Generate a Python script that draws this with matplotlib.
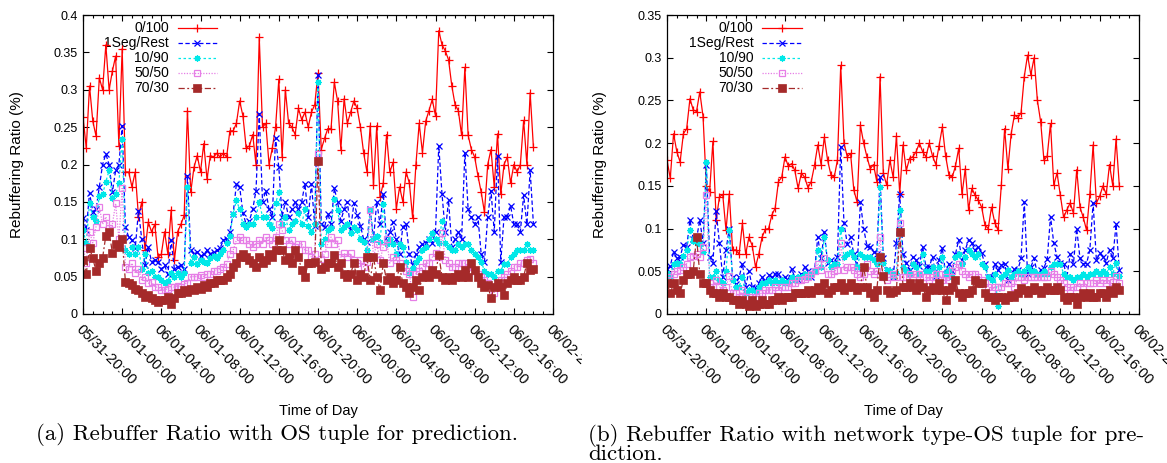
import numpy as np
import matplotlib
matplotlib.use("Agg")
import matplotlib.pyplot as plt
from matplotlib.transforms import Bbox, TransformedBbox

# x tick labels (every 4 hours, starting 05/31-20:00)
time_labels = ["05/31-20:00", "06/01-00:00", "06/01-04:00", "06/01-08:00",
               "06/01-12:00", "06/01-16:00", "06/01-20:00", "06/02-00:00",
               "06/02-04:00", "06/02-08:00", "06/02-12:00", "06/02-16:00",
               "06/02-20:00"]
series_names = ["0/100", "1Seg/Rest", "10/90", "50/50", "70/30"]

# samples every 20 minutes (value in %), panel (a): OS tuple
a_0_100 = [0.264, 0.222, 0.305, 0.258, 0.238, 0.316, 0.30, 0.36, 0.30, 0.325,
           0.345, 0.225, 0.355, 0.19, 0.19, 0.17, 0.19, 0.13, 0.15, 0.085,
           0.123, 0.11, 0.12, 0.076, 0.08, 0.11, 0.08, 0.139, 0.072, 0.11,
           0.12, 0.132, 0.272, 0.163, 0.196, 0.212, 0.19, 0.228, 0.18, 0.212,
           0.21, 0.215, 0.21, 0.215, 0.21, 0.245, 0.245, 0.255, 0.285, 0.265,
           0.222, 0.225, 0.24, 0.2, 0.37, 0.25, 0.255, 0.2, 0.222, 0.25,
           0.314, 0.21, 0.30, 0.255, 0.25, 0.24, 0.275, 0.26, 0.27, 0.25,
           0.27, 0.28, 0.322,
           0.22, 0.235, 0.248, 0.248, 0.31, 0.285, 0.22, 0.288, 0.255, 0.27,
           0.285, 0.275, 0.25, 0.215, 0.19, 0.252, 0.172, 0.252, 0.156, 0.175,
           0.24, 0.19, 0.203, 0.141, 0.17, 0.15, 0.19, 0.175, 0.128, 0.2,
           0.255, 0.216, 0.258, 0.272, 0.287, 0.265, 0.379, 0.36, 0.352, 0.34,
           0.305, 0.28, 0.272, 0.239, 0.33, 0.239, 0.22, 0.21, 0.185, 0.163,
           0.136, 0.2, 0.22, 0.17, 0.241, 0.16, 0.2, 0.21, 0.175, 0.2,
           0.19, 0.2, 0.259, 0.2, 0.296, 0.223]
a_1seg = [0.129, 0.112, 0.162, 0.137, 0.14, 0.17, 0.2, 0.214, 0.2, 0.163,
          0.192, 0.2, 0.252, 0.116, 0.103, 0.099, 0.088, 0.138, 0.1, 0.065,
          0.09, 0.07, 0.072, 0.07, 0.06, 0.065, 0.053, 0.099, 0.06, 0.063,
          0.065, 0.06, 0.185, 0.085, 0.08, 0.083, 0.077, 0.08, 0.085, 0.08,
          0.083, 0.085, 0.088, 0.099, 0.1, 0.11, 0.134, 0.174, 0.17, 0.135,
          0.12, 0.125, 0.14, 0.165, 0.268, 0.15, 0.165, 0.14, 0.13, 0.236,
          0.196, 0.13, 0.15, 0.13, 0.14, 0.15, 0.14, 0.15, 0.174, 0.13,
          0.174, 0.118, 0.32,
          0.12, 0.116, 0.134, 0.12, 0.168, 0.15, 0.125, 0.14, 0.15, 0.113,
          0.148, 0.133, 0.118, 0.1, 0.096, 0.14, 0.1, 0.15, 0.12, 0.161,
          0.098, 0.11, 0.123, 0.1, 0.08, 0.117, 0.12, 0.08, 0.065, 0.08,
          0.09, 0.093, 0.095, 0.1, 0.095, 0.11, 0.225, 0.16, 0.11, 0.152,
          0.09, 0.1, 0.11, 0.1, 0.216, 0.14, 0.13, 0.12, 0.13, 0.08,
          0.07, 0.13, 0.165, 0.11, 0.212, 0.07, 0.13, 0.13, 0.145, 0.12,
          0.12, 0.11, 0.159, 0.12, 0.192, 0.12]
a_10_90 = [0.112, 0.095, 0.148, 0.13, 0.125, 0.158, 0.16, 0.177, 0.192, 0.155,
           0.16, 0.175, 0.234, 0.085, 0.08, 0.09, 0.08, 0.09, 0.06, 0.08,
           0.055, 0.058, 0.05, 0.05, 0.045, 0.042, 0.044, 0.055, 0.05, 0.055,
           0.05, 0.055, 0.17, 0.068, 0.076, 0.067, 0.072, 0.07, 0.068, 0.075,
           0.077, 0.075, 0.08, 0.085, 0.095, 0.105, 0.134, 0.152, 0.14, 0.12,
           0.117, 0.12, 0.12, 0.13, 0.15, 0.13, 0.13, 0.12, 0.115, 0.148,
           0.163, 0.12, 0.13, 0.112, 0.12, 0.125, 0.135, 0.12, 0.14, 0.118,
           0.11, 0.12, 0.31,
           0.094, 0.1, 0.112, 0.115, 0.154, 0.139, 0.112, 0.116, 0.12, 0.108,
           0.116, 0.112, 0.1, 0.096, 0.085, 0.139, 0.1, 0.105, 0.096, 0.147,
           0.094, 0.1, 0.094, 0.08, 0.094, 0.09, 0.07, 0.055, 0.062, 0.07,
           0.075, 0.085, 0.09, 0.1, 0.108, 0.1, 0.095, 0.125, 0.095, 0.09,
           0.085, 0.085, 0.094, 0.09, 0.094, 0.094, 0.085, 0.08, 0.076, 0.07,
           0.058, 0.054, 0.054, 0.05, 0.058, 0.058, 0.067, 0.067, 0.076, 0.08,
           0.085, 0.085, 0.085, 0.094, 0.085, 0.085]
a_50_50 = [0.088, 0.068, 0.11, 0.095, 0.117, 0.143, 0.12, 0.13, 0.115, 0.12,
           0.148, 0.1, 0.168, 0.063, 0.06, 0.068, 0.055, 0.06, 0.045, 0.05,
           0.041, 0.043, 0.036, 0.036, 0.032, 0.032, 0.034, 0.036, 0.036, 0.038,
           0.036, 0.04, 0.042, 0.05, 0.05, 0.05, 0.052, 0.05, 0.054, 0.054,
           0.058, 0.058, 0.06, 0.063, 0.067, 0.08, 0.085, 0.099, 0.103, 0.099,
           0.099, 0.094, 0.09, 0.094, 0.099, 0.094, 0.103, 0.099, 0.094, 0.103,
           0.12, 0.112, 0.099, 0.094, 0.099, 0.09, 0.094, 0.094, 0.085, 0.085,
           0.076, 0.08, 0.214,
           0.074, 0.08, 0.094, 0.103, 0.094, 0.099, 0.076, 0.081, 0.076, 0.081,
           0.072, 0.068, 0.072, 0.063, 0.07, 0.139, 0.076, 0.094, 0.072, 0.09,
           0.1, 0.068, 0.076, 0.072, 0.068, 0.063, 0.058, 0.054, 0.023, 0.054,
           0.058, 0.063, 0.068, 0.068, 0.076, 0.081, 0.076, 0.108, 0.072, 0.068,
           0.063, 0.063, 0.068, 0.068, 0.068, 0.063, 0.058, 0.058, 0.054, 0.05,
           0.045, 0.041, 0.036, 0.028, 0.041, 0.045, 0.05, 0.054, 0.058, 0.063,
           0.063, 0.068, 0.068, 0.072, 0.074, 0.068]
a_70_30 = [0.072, 0.054, 0.088, 0.075, 0.057, 0.068, 0.075, 0.105, 0.11, 0.082,
           0.094, 0.09, 0.1, 0.043, 0.041, 0.039, 0.034, 0.032, 0.028, 0.023,
           0.025, 0.021, 0.019, 0.016, 0.019, 0.019, 0.023, 0.014, 0.021, 0.028,
           0.028, 0.032, 0.03, 0.034, 0.032, 0.036, 0.034, 0.039, 0.036, 0.041,
           0.041, 0.045, 0.045, 0.045, 0.05, 0.054, 0.063, 0.068, 0.076, 0.08,
           0.076, 0.072, 0.068, 0.063, 0.076, 0.068, 0.072, 0.08, 0.076, 0.085,
           0.099, 0.085, 0.072, 0.076, 0.068, 0.085, 0.076, 0.059, 0.05, 0.068,
           0.068, 0.07, 0.205,
           0.06, 0.063, 0.068, 0.068, 0.079, 0.063, 0.068, 0.054, 0.05, 0.054,
           0.068, 0.045, 0.054, 0.05, 0.076, 0.045, 0.076, 0.05, 0.032, 0.068,
           0.045, 0.05, 0.041, 0.045, 0.063, 0.041, 0.036, 0.028, 0.036, 0.045,
           0.032, 0.05, 0.054, 0.05, 0.059, 0.054, 0.079, 0.05, 0.045, 0.05,
           0.045, 0.05, 0.054, 0.05, 0.059, 0.05, 0.068, 0.059, 0.05, 0.041,
           0.036, 0.039, 0.021, 0.036, 0.041, 0.036, 0.025, 0.041, 0.045, 0.05,
           0.045, 0.045, 0.05, 0.068, 0.059, 0.06]

# panel (b): network type-OS tuple
b_0_100 = [0.18, 0.159, 0.211, 0.19, 0.178, 0.211, 0.217, 0.252, 0.239, 0.237,
           0.26, 0.231, 0.15, 0.143, 0.202, 0.11, 0.137, 0.14, 0.098, 0.141,
           0.075, 0.075, 0.07, 0.106, 0.07, 0.09, 0.08, 0.055, 0.07, 0.09,
           0.099, 0.1, 0.116, 0.124, 0.155, 0.16, 0.184, 0.173, 0.176, 0.168,
           0.147, 0.165, 0.16, 0.148, 0.155, 0.174, 0.198, 0.175, 0.207, 0.18,
           0.163, 0.16, 0.18, 0.291, 0.2, 0.184, 0.188, 0.145, 0.131, 0.221,
           0.2, 0.184, 0.17, 0.175, 0.155, 0.278,
           0.165, 0.151, 0.18, 0.16, 0.208, 0.141, 0.198, 0.168, 0.182, 0.184,
           0.19, 0.2, 0.19, 0.184, 0.2, 0.185, 0.175, 0.197, 0.219, 0.185,
           0.163, 0.16, 0.173, 0.194, 0.14, 0.17, 0.122, 0.147, 0.139, 0.133,
           0.125, 0.104, 0.1, 0.125, 0.107, 0.098, 0.151, 0.217, 0.17, 0.211,
           0.233, 0.23, 0.235, 0.278, 0.303, 0.28, 0.3, 0.25, 0.225, 0.18,
           0.185, 0.223, 0.151, 0.165, 0.139, 0.113, 0.122, 0.13, 0.118, 0.169,
           0.125, 0.113, 0.098, 0.14, 0.198, 0.13, 0.138, 0.15, 0.14, 0.175,
           0.15, 0.205, 0.15]
b_1seg = [0.053, 0.056, 0.073, 0.065, 0.067, 0.081, 0.078, 0.11, 0.088, 0.088,
          0.11, 0.083, 0.175, 0.067, 0.06, 0.12, 0.083, 0.043, 0.075, 0.1,
          0.043, 0.035, 0.043, 0.059, 0.032, 0.05, 0.032, 0.03, 0.036, 0.043,
          0.038, 0.046, 0.043, 0.047, 0.047, 0.04, 0.043, 0.04, 0.053, 0.043,
          0.04, 0.047, 0.055, 0.05, 0.043, 0.05, 0.09, 0.065, 0.096, 0.06,
          0.063, 0.06, 0.067, 0.196, 0.106, 0.082, 0.09, 0.07, 0.055, 0.131,
          0.1, 0.08, 0.078, 0.073, 0.07, 0.16,
          0.065, 0.052, 0.05, 0.043, 0.083, 0.141, 0.07, 0.06, 0.052, 0.067,
          0.063, 0.056, 0.079, 0.055, 0.055, 0.067, 0.045, 0.063, 0.077, 0.047,
          0.059, 0.05, 0.07, 0.087, 0.063, 0.075, 0.087, 0.083, 0.075, 0.079,
          0.071, 0.059, 0.043, 0.043, 0.059, 0.051, 0.057, 0.059, 0.04, 0.043,
          0.053, 0.051, 0.065, 0.131, 0.047, 0.055, 0.065, 0.047, 0.051, 0.054,
          0.064, 0.114, 0.083, 0.067, 0.06, 0.059, 0.043, 0.07, 0.059, 0.1,
          0.065, 0.059, 0.059, 0.075, 0.13, 0.063, 0.071, 0.067, 0.06, 0.075,
          0.065, 0.105, 0.052]
b_10_90 = [0.048, 0.045, 0.059, 0.06, 0.059, 0.068, 0.075, 0.098, 0.085, 0.083,
           0.082, 0.073, 0.178, 0.043, 0.043, 0.05, 0.04, 0.036, 0.05, 0.098,
           0.04, 0.032, 0.032, 0.043, 0.024, 0.028, 0.028, 0.026, 0.032, 0.036,
           0.036, 0.04, 0.036, 0.04, 0.036, 0.04, 0.036, 0.038, 0.043, 0.04,
           0.043, 0.043, 0.047, 0.043, 0.047, 0.05, 0.075, 0.055, 0.09, 0.063,
           0.055, 0.059, 0.059, 0.1, 0.067, 0.07, 0.072, 0.067, 0.055, 0.07,
           0.067, 0.067, 0.067, 0.063, 0.059, 0.149,
           0.06, 0.052, 0.05, 0.045, 0.048, 0.122, 0.055, 0.05, 0.047, 0.059,
           0.055, 0.047, 0.07, 0.05, 0.05, 0.055, 0.047, 0.055, 0.067, 0.047,
           0.052, 0.043, 0.067, 0.07, 0.059, 0.067, 0.075, 0.07, 0.067, 0.07,
           0.059, 0.055, 0.043, 0.04, 0.047, 0.009, 0.043, 0.047, 0.052, 0.043,
           0.047, 0.05, 0.047, 0.05, 0.055, 0.05, 0.05, 0.047, 0.047, 0.05,
           0.047, 0.055, 0.059, 0.059, 0.059, 0.047, 0.043, 0.043, 0.04, 0.043,
           0.043, 0.047, 0.043, 0.047, 0.047, 0.05, 0.047, 0.05, 0.047, 0.055,
           0.047, 0.06, 0.045]
b_50_50 = [0.04, 0.043, 0.047, 0.05, 0.052, 0.055, 0.059, 0.067, 0.068, 0.07,
           0.067, 0.078, 0.139, 0.036, 0.032, 0.04, 0.032, 0.028, 0.032, 0.044,
           0.024, 0.024, 0.02, 0.028, 0.02, 0.02, 0.02, 0.02, 0.024, 0.024,
           0.028, 0.028, 0.028, 0.032, 0.028, 0.032, 0.032, 0.032, 0.036, 0.036,
           0.04, 0.04, 0.041, 0.043, 0.047, 0.05, 0.059, 0.052, 0.066, 0.047,
           0.047, 0.05, 0.052, 0.083, 0.052, 0.055, 0.055, 0.052, 0.047, 0.043,
           0.047, 0.059, 0.05, 0.047, 0.05, 0.09,
           0.043, 0.04, 0.043, 0.047, 0.043, 0.106, 0.043, 0.043, 0.047, 0.043,
           0.047, 0.047, 0.043, 0.043, 0.04, 0.043, 0.047, 0.047, 0.04, 0.043,
           0.04, 0.05, 0.055, 0.059, 0.05, 0.047, 0.043, 0.047, 0.047, 0.043,
           0.04, 0.036, 0.032, 0.028, 0.032, 0.032, 0.032, 0.036, 0.036, 0.036,
           0.032, 0.043, 0.043, 0.04, 0.043, 0.043, 0.043, 0.043, 0.043, 0.043,
           0.043, 0.05, 0.047, 0.043, 0.04, 0.036, 0.032, 0.028, 0.032, 0.032,
           0.036, 0.032, 0.036, 0.036, 0.036, 0.04, 0.036, 0.04, 0.036, 0.04,
           0.038, 0.045, 0.036]
b_70_30 = [0.036, 0.024, 0.036, 0.028, 0.024, 0.04, 0.047, 0.047, 0.05, 0.09,
           0.047, 0.036, 0.036, 0.028, 0.024, 0.024, 0.02, 0.024, 0.02, 0.02,
           0.016, 0.016, 0.012, 0.016, 0.012, 0.009, 0.016, 0.009, 0.012, 0.016,
           0.012, 0.012, 0.016, 0.016, 0.02, 0.016, 0.02, 0.02, 0.02, 0.024,
           0.024, 0.024, 0.024, 0.028, 0.024, 0.028, 0.032, 0.028, 0.036, 0.024,
           0.028, 0.032, 0.032, 0.036, 0.028, 0.032, 0.036, 0.032, 0.028, 0.032,
           0.055, 0.032, 0.024, 0.02, 0.028, 0.067,
           0.044, 0.028, 0.024, 0.026, 0.028, 0.096, 0.032, 0.032, 0.036, 0.032,
           0.028, 0.036, 0.032, 0.02, 0.028, 0.032, 0.028, 0.036, 0.028, 0.016,
           0.028, 0.032, 0.04, 0.024, 0.02, 0.024, 0.024, 0.028, 0.04, 0.036,
           0.036, 0.024, 0.02, 0.02, 0.016, 0.02, 0.02, 0.016, 0.02, 0.022,
           0.02, 0.024, 0.03, 0.028, 0.024, 0.028, 0.032, 0.028, 0.024, 0.028,
           0.032, 0.028, 0.028, 0.032, 0.028, 0.02, 0.016, 0.02, 0.02, 0.012,
           0.02, 0.024, 0.02, 0.024, 0.02, 0.02, 0.024, 0.024, 0.02, 0.028,
           0.024, 0.032, 0.028]

a_yticks = [0, 0.05, 0.1, 0.15, 0.2, 0.25, 0.3, 0.35, 0.4]
a_ylabels = ["0", "0.05", "0.1", "0.15", "0.2", "0.25", "0.3", "0.35", "0.4"]
b_yticks = [0, 0.05, 0.1, 0.15, 0.2, 0.25, 0.3, 0.35]
b_ylabels = ["0", "0.05", "0.1", "0.15", "0.2", "0.25", "0.3", "0.35"]

plt.rcParams['font.family'] = ['Liberation Sans', 'DejaVu Sans']

# gnuplot-like styles
styles = [
    dict(color="#ff0000", ls="-", marker="+", ms=5.5, mew=0.9),
    dict(color="#0000ff", ls=(0, (3.5, 2)), marker="x", ms=4, mew=0.9),
    dict(color="#00e8e8", ls=(0, (2, 2)), marker=(8, 2, 0), ms=4.5, mew=0.9),
    dict(color="#e67ee6", ls=(0, (1, 1.2)), marker="s", ms=4.8, mew=0.9, mfc="none"),
    dict(color="#a52a2a", ls=(0, (5, 2, 1.5, 2)), marker="s", ms=5.3, mew=0.5),
]

W, H = 1167, 463
fig = plt.figure(figsize=(W / 100, H / 100), dpi=100)


def panel(l, r, data, yticks, ylabels, ymax, clip_x=None):
    ax = fig.add_axes([l / W, 1 - 314 / H, (r - l) / W, 299 / H])
    for vals, st in zip(data, styles):
        hours = np.arange(len(vals)) / 3.0
        ax.plot(hours, vals, lw=0.9, zorder=2, **st)
    ax.set_xlim(0, 48)
    ax.set_ylim(0, ymax)
    ax.set_yticks(yticks)
    ax.set_yticklabels(ylabels)
    ax.set_xticks(np.arange(0, 49, 4))
    ax.set_xticks(np.arange(0, 49, 1), minor=True)
    ax.set_xticklabels(time_labels, rotation=-45, ha="left", va="top",
                       rotation_mode="anchor")
    ax.tick_params(which="both", direction="in", top=True, right=True,
                   labelsize=9, width=0.8, colors="black")
    ax.tick_params(axis="y", which="major", length=4.5, pad=4)
    ax.tick_params(axis="x", which="major", length=4.5, pad=6, labelsize=10.5)
    ax.tick_params(axis="x", which="minor", length=2.5)
    for s in ax.spines.values():
        s.set_linewidth(0.9)
    # key, right-aligned text then sample line (like gnuplot)
    for k, (name, st) in enumerate(zip(series_names, styles)):
        y = 0.958 - k * 0.0505
        ax.text(0.183, y, name, transform=ax.transAxes, ha="right",
                va="center", fontsize=10, zorder=1)
        ax.plot([0.202, 0.285], [y, y], transform=ax.transAxes, lw=0.9,
                color=st["color"], ls=st["ls"], clip_on=False, zorder=1)
        ax.plot([0.2435], [y], transform=ax.transAxes, ls="none",
                marker=st["marker"], ms=st["ms"], mew=st["mew"],
                color=st["color"], mfc=st.get("mfc", st["color"]),
                clip_on=False, zorder=1)
    if clip_x is not None:
        box = TransformedBbox(Bbox.from_extents(0, 0, clip_x / W, 1),
                              fig.transFigure)
        for lbl in ax.get_xticklabels():
            lbl.set_clip_on(True)
            lbl.set_clip_box(box)
    return ax


ax_a = panel(83, 553, [a_0_100, a_1seg, a_10_90, a_50_50, a_70_30],
             a_yticks, a_ylabels, 0.4, clip_x=582)
ax_b = panel(667, 1139, [b_0_100, b_1seg, b_10_90, b_50_50, b_70_30],
             b_yticks, b_ylabels, 0.35)

fig.text(17 / W, 1 - 165 / H, "Rebuffering Ratio (%)", rotation=90,
         ha="center", va="center", fontsize=11)
fig.text(600 / W, 1 - 165 / H, "Rebuffering Ratio (%)", rotation=90,
         ha="center", va="center", fontsize=11)
fig.text(318 / W, 1 - 411 / H, "Time of Day", ha="center", va="center", fontsize=10.5)
fig.text(903 / W, 1 - 411 / H, "Time of Day", ha="center", va="center", fontsize=10.5)

cap_size = 16.5
fig.text(36 / W, 1 - 440 / H, "(a) Rebuffer Ratio with OS tuple for prediction.",
         family="cmr10", fontsize=cap_size, va="baseline")
# two-line caption as one text block
fig.text(588 / W, 1 - 424 / H,
         "(b) Rebuffer Ratio with network type-OS tuple for pre-\ndiction.",
         family="cmr10", fontsize=cap_size, va="top", linespacing=0.85)

fig.savefig("out.png", dpi=100)
